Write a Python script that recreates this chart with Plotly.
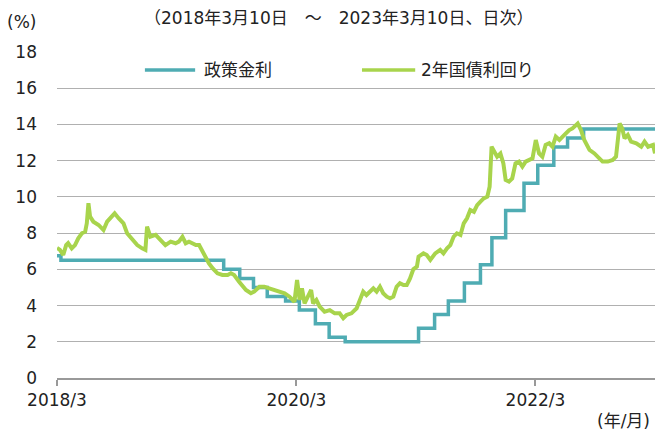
import plotly.graph_objects as go

# Policy rate (step series)
policy_dates = ["2018-03-10", "2018-03-22", "2019-08-01", "2019-09-19", "2019-10-31", "2019-12-12",
                "2020-02-06", "2020-03-19", "2020-05-07", "2020-06-18", "2020-08-06", "2021-03-18",
                "2021-05-06", "2021-06-17", "2021-08-05", "2021-09-23", "2021-10-28", "2021-12-09",
                "2022-02-03", "2022-03-17", "2022-05-05", "2022-06-16", "2022-08-04", "2023-03-10"]
policy_rate = [6.75, 6.50, 6.00, 5.50, 5.00, 4.50,
               4.25, 3.75, 3.00, 2.25, 2.00, 2.75,
               3.50, 4.25, 5.25, 6.25, 7.75, 9.25,
               10.75, 11.75, 12.75, 13.25, 13.75, 13.75]

# 2-year government bond yield
bond_dates = [
    "2018-03-10", "2018-03-19", "2018-03-29", "2018-04-07", "2018-04-13", "2018-04-24", "2018-05-04",
    "2018-05-14", "2018-05-25", "2018-06-04", "2018-06-09", "2018-06-14", "2018-06-19", "2018-06-29",
    "2018-07-15", "2018-07-30", "2018-08-10", "2018-08-25", "2018-09-02", "2018-09-14", "2018-09-29",
    "2018-10-10", "2018-10-25", "2018-11-10", "2018-11-25", "2018-12-05", "2018-12-10", "2018-12-20",
    "2019-01-05", "2019-01-20", "2019-02-04", "2019-02-20", "2019-03-07", "2019-03-17", "2019-03-28",
    "2019-04-07", "2019-04-17", "2019-04-27", "2019-05-08", "2019-05-18", "2019-05-28", "2019-06-07",
    "2019-06-17", "2019-06-28", "2019-07-13", "2019-07-28", "2019-08-13", "2019-08-23", "2019-09-02",
    "2019-09-17", "2019-09-28", "2019-10-08", "2019-10-23", "2019-11-02", "2019-11-18", "2019-12-03",
    "2019-12-18", "2020-01-03", "2020-01-18", "2020-02-03", "2020-02-18", "2020-03-04", "2020-03-12",
    "2020-03-20", "2020-03-27", "2020-04-04", "2020-04-14", "2020-04-24", "2020-04-30", "2020-05-10",
    "2020-05-20", "2020-06-04", "2020-06-20", "2020-07-05", "2020-07-20", "2020-07-31", "2020-08-10",
    "2020-08-25", "2020-09-10", "2020-09-20", "2020-09-30", "2020-10-10", "2020-10-20", "2020-10-31",
    "2020-11-10", "2020-11-20", "2020-11-30", "2020-12-11", "2020-12-21", "2020-12-31", "2021-01-10",
    "2021-01-20", "2021-01-31", "2021-02-10", "2021-02-20", "2021-03-02", "2021-03-13", "2021-03-18",
    "2021-04-02", "2021-04-12", "2021-04-23", "2021-05-08", "2021-05-23", "2021-06-02", "2021-06-13",
    "2021-06-23", "2021-07-03", "2021-07-13", "2021-07-24", "2021-08-03", "2021-08-13", "2021-08-23",
    "2021-09-03", "2021-09-13", "2021-09-23", "2021-10-03", "2021-10-14", "2021-10-21", "2021-10-27",
    "2021-11-03", "2021-11-13", "2021-11-23", "2021-12-02", "2021-12-09", "2021-12-19", "2021-12-29",
    "2022-01-08", "2022-01-19", "2022-01-29", "2022-02-08", "2022-02-18", "2022-03-01", "2022-03-11",
    "2022-03-21", "2022-03-31", "2022-04-10", "2022-04-21", "2022-05-01", "2022-05-11", "2022-05-22",
    "2022-06-01", "2022-06-11", "2022-06-21", "2022-07-01", "2022-07-17", "2022-07-27", "2022-08-06",
    "2022-08-22", "2022-09-06", "2022-09-21", "2022-10-01", "2022-10-17", "2022-11-01", "2022-11-11",
    "2022-11-22", "2022-11-30", "2022-12-07", "2022-12-17", "2022-12-27", "2023-01-12", "2023-01-27",
    "2023-02-06", "2023-02-17", "2023-03-04", "2023-03-10"]
bond_yield = [
    7.18, 7.07, 6.79, 7.34, 7.45, 7.16, 7.34,
    7.71, 7.99, 8.08, 8.54, 9.65, 8.91, 8.63,
    8.45, 8.17, 8.63, 8.91, 9.09, 8.82, 8.54,
    7.99, 7.71, 7.34, 7.16, 7.07, 8.36, 7.80,
    7.90, 7.62, 7.34, 7.53, 7.44, 7.53, 7.80,
    7.44, 7.53, 7.44, 7.34, 7.34, 6.98, 6.61,
    6.33, 6.06, 5.78, 5.69, 5.69, 5.78, 5.69,
    5.32, 5.04, 4.86, 4.68, 4.77, 5.04, 5.04,
    4.95, 4.86, 4.77, 4.68, 4.49, 4.21, 5.41,
    4.31, 4.95, 4.12, 4.49, 4.86, 4.12, 4.31,
    3.94, 3.66, 3.75, 3.57, 3.57, 3.30, 3.48,
    3.57, 3.85, 4.31, 4.77, 4.58, 4.77, 4.95,
    4.77, 5.04, 4.68, 4.49, 4.40, 4.49, 5.04,
    5.23, 5.13, 5.13, 5.50, 6.00, 6.15, 6.70,
    6.88, 6.79, 6.52, 6.88, 7.07, 6.88, 7.16,
    7.34, 7.80, 7.99, 7.90, 8.54, 8.82, 9.28,
    9.18, 9.55, 9.74, 9.92, 10.01, 10.56, 12.77,
    12.50, 12.22, 12.40, 11.85, 10.93, 10.84, 11.02,
    11.85, 11.95, 11.67, 11.95, 12.04, 12.13, 13.14,
    12.40, 12.22, 12.87, 12.96, 12.77, 13.33, 13.14,
    13.33, 13.51, 13.69, 13.78, 14.05, 13.69, 13.14,
    12.59, 12.40, 12.13, 11.95, 11.95, 12.04, 12.22,
    14.05, 13.78, 13.23, 13.42, 13.05, 12.96, 12.77,
    13.05, 12.77, 12.87, 12.40]

series_names = ["政策金利", "2年国債利回り"]
x_tick_vals = ["2018-03-10", "2020-03-10", "2022-03-10"]
x_tick_text = ["2018/3", "2020/3", "2022/3"]
y_tick_vals = [0, 2, 4, 6, 8, 10, 12, 14, 16, 18]

FONT = "DejaVu Sans, Noto Sans CJK JP, sans-serif"
TEAL = "#4facb3"
GREEN = "#a8d44c"
FS = 17

fig = go.Figure()
fig.add_trace(go.Scatter(x=policy_dates, y=policy_rate, mode="lines", name=series_names[0],
                         line=dict(color=TEAL, width=3.5, shape="hv")))
fig.add_trace(go.Scatter(x=bond_dates, y=bond_yield, mode="lines", name=series_names[1],
                         line=dict(color=GREEN, width=4)))

# legend drawn manually (long line samples)
leg_y = 0.945
legend_shapes = [
    dict(type="line", xref="paper", yref="paper", x0=0.147, x1=0.231, y0=leg_y, y1=leg_y,
         line=dict(color=TEAL, width=3.5)),
    dict(type="line", xref="paper", yref="paper", x0=0.510, x1=0.599, y0=leg_y, y1=leg_y,
         line=dict(color=GREEN, width=3.5)),
]
legend_texts = [
    dict(text=series_names[0], xref="paper", yref="paper", x=0.243, y=leg_y, xanchor="left",
         yanchor="middle", showarrow=False, font=dict(size=FS)),
    dict(text=series_names[1], xref="paper", yref="paper", x=0.606, y=leg_y, xanchor="left",
         yanchor="middle", showarrow=False, font=dict(size=FS)),
]

fig.update_layout(
    width=661, height=432,
    margin=dict(l=57, r=6, t=52, b=54),
    paper_bgcolor="white", plot_bgcolor="white",
    font=dict(family=FONT, size=FS, color="#222222"),
    showlegend=False,
    shapes=legend_shapes,
    xaxis=dict(type="date", range=["2018-03-10", "2023-03-10"],
               tickvals=x_tick_vals, ticktext=x_tick_text,
               showgrid=False, showline=True, linecolor="#999999", linewidth=1.5,
               ticks="outside", ticklen=6, tickcolor="#999999", tickwidth=1.5,
               tickfont=dict(size=FS), zeroline=False),
    yaxis=dict(range=[0, 18], tickvals=y_tick_vals,
               showgrid=True, gridcolor="#b0b0b0", gridwidth=1.2,
               showline=False, zeroline=False, ticks="", ticklabelstandoff=19,
               tickfont=dict(size=FS)),
    annotations=legend_texts + [
        dict(text="（2018年3月10日　～　2023年3月10日、日次）", xref="paper", yref="paper",
             x=0.47, y=1.0, yshift=34, xanchor="center", yanchor="middle", showarrow=False,
             font=dict(size=FS)),
        dict(text="(%)", xref="paper", yref="paper", x=0, xshift=-36, y=1.0, yshift=30,
             xanchor="center", yanchor="middle", showarrow=False, font=dict(size=FS)),
        dict(text="(年/月)", xref="paper", yref="paper", x=1.0, xshift=-3, y=0, yshift=-43,
             xanchor="right", yanchor="middle", showarrow=False, font=dict(size=FS)),
    ],
)

fig.write_html("out.html", config={"displayModeBar": False},
               post_script="document.body.style.margin='0px';")
